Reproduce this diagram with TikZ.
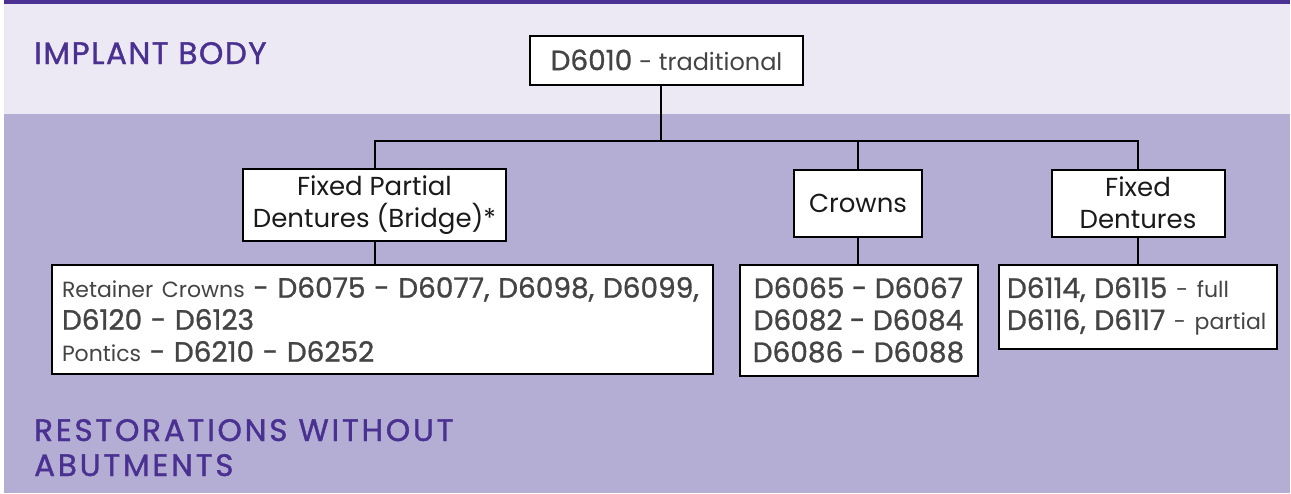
\documentclass[tikz,border=0pt]{standalone}
\usepackage{fontspec}
\setmainfont{Poppins}
\newfontfamily\codefont[FakeBold=1.0]{Poppins}
\newfontfamily\headfont[FakeBold=1.2, LetterSpace=5]{Poppins}
\newfontfamily\headwidefont[FakeBold=1.2, LetterSpace=9]{Poppins}
\definecolor{topbar}{HTML}{4B3193}
\definecolor{lightband}{HTML}{ECE8F4}
\definecolor{darkband}{HTML}{B4AED4}
\definecolor{headtext}{HTML}{4A3191}
\definecolor{codetext}{HTML}{444444}
\definecolor{labeltext}{HTML}{1A1A1A}
\newcommand{\code}[1]{{\codefont\fontsize{28}{32}\selectfont\color{codetext}#1}}
\newcommand{\lab}[1]{{\fontsize{22}{32}\selectfont\color{codetext}#1}}
\tikzset{
  box/.style={draw=black, line width=2pt, fill=white, inner sep=0pt, align=center,
    text=labeltext, font=\fontsize{26}{32}\selectfont},
  conn/.style={draw=black, line width=2pt},
  heading/.style={text=headtext, font=\headfont\fontsize{31}{35}\selectfont, anchor=base west, inner sep=0pt, align=left},
  headingwide/.style={heading, font=\headwidefont\fontsize{31}{35}\selectfont}
}
\begin{document}
\begin{tikzpicture}[x=1pt,y=-1pt]
\useasboundingbox (0,0) rectangle (1291,493);
\fill[white] (0,0) rectangle (1291,493);
\fill[lightband] (4,3) rectangle (1290,114);
\fill[darkband] (4,114) rectangle (1290,493);
\fill[topbar] (4,0) rectangle (1290,3.5);

\node[heading] (h1) at (34,64) {IMPLANT BODY};
\node[headingwide] (h2) at (34,441) {RESTORATIONS WITHOUT};
\node[headingwide] (h3) at (34,476) {ABUTMENTS};

\node[box, minimum width=273, minimum height=49] (root) at (666.5,60) {\code{D6010} \lab{\fontsize{24}{32}\selectfont- traditional}};

\node[box, minimum width=263, minimum height=72] (fpd) at (374.5,205) {Fixed Partial\\Dentures (Bridge)*};
\node[box, minimum width=128, minimum height=67] (crn) at (858,203) {Crowns};
\node[box, minimum width=173, minimum height=67] (fdn) at (1138,203) {Fixed\\Dentures};

\node[box, minimum width=661, minimum height=109, text width=641, align=left] (ret) at (382.5,319.5)
  {\lab{Retainer Crowns} \code{- D6075 - D6077, D6098, D6099,}\\
   \code{D6120 - D6123}\\
   \lab{Pontics} \code{- D6210 - D6252}};
\node[box, minimum width=238, minimum height=111] (crc) at (858.5,320)
  {\code{D6065 - D6067}\\\code{D6082 - D6084}\\\code{D6086 - D6088}};
\node[box, minimum width=278, minimum height=84, text width=262, align=left] (fdc) at (1138,306.5)
  {\code{D6114, D6115} \lab{- full}\\\code{D6116, D6117} \lab{- partial}};

\coordinate (rj) at (661,141);
\draw[conn] (rj |- root.south) -- (rj);
\draw[conn] (fpd.north) |- (fdn.north |- rj) -- (fdn.north);
\draw[conn] (crn.north |- rj) -- (crn.north);
\draw[conn] (fpd.south) -- (fpd.south |- ret.north);
\draw[conn] (crn.south) -- (crn.south |- crc.north);
\draw[conn] (fdn.south) -- (fdn.south |- fdc.north);
\end{tikzpicture}
\end{document}
